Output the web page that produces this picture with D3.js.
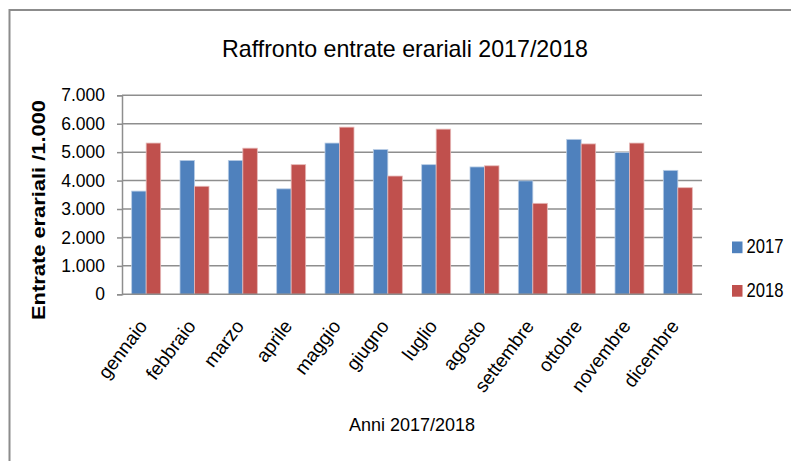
<!DOCTYPE html>
<html>
<head>
<meta charset="utf-8">
<script src="https://cdn.jsdelivr.net/npm/d3@7"></script>
<style>
  body { margin: 0; background: #fff; }
  svg { display: block; font-family: "Liberation Sans", Arial, sans-serif; }
  .grid line { stroke: #8e8e8e; stroke-width: 1.5; }
  .axis path, .axis line { stroke: #8e8e8e; stroke-width: 1.5; }
  .axis text { fill: #000; }
</style>
</head>
<body>
<svg id="chart" width="791" height="461"></svg>
<script>
// months and yearly values (thousands)
const months = ['gennaio', 'febbraio', 'marzo', 'aprile', 'maggio', 'giugno',
  'luglio', 'agosto', 'settembre', 'ottobre', 'novembre', 'dicembre']
const years = ['2017', '2018']
const values2017 = [3630, 4710, 4710, 3710, 5320, 5090, 4560, 4480, 3990, 5450, 4990, 4360]
const values2018 = [5320, 3800, 5140, 4560, 5880, 4160, 5810, 4520, 3200, 5290, 5320, 3750]
const yTicks = [0, 1000, 2000, 3000, 4000, 5000, 6000, 7000]

const colors = { '2017': '#4f81bd', '2018': '#c0504d' }
const edge = { '2017': '#b9cde5', '2018': '#e6b9b8' }

const svg = d3.select('#chart')
const plot = { left: 122, right: 702, top: 95.3, bottom: 294.3 }

// italian number format: 7.000
const it = d3.formatLocale({ decimal: ',', thousands: '.', grouping: [3], currency: ['€', ''] })
const fmt = it.format(',d')

const x0 = d3.scaleBand().domain(months).range([plot.left, plot.right]).padding(0)
const x1 = d3.scaleBand().domain(years)
  .range([x0.bandwidth() * 0.2, x0.bandwidth() * 0.8]).padding(0)
const y = d3.scaleLinear().domain([0, 7000]).range([plot.bottom, plot.top])

// outer frame (only top and left visible in the crop)
svg.append('path')
  .attr('d', 'M9.5,461 L9.5,10 L791,10')
  .attr('fill', 'none').attr('stroke', '#8c8c8c').attr('stroke-width', 2)

svg.append('text')
  .attr('x', 405).attr('y', 57)
  .attr('text-anchor', 'middle')
  .attr('font-size', 24)
  .attr('textLength', 366).attr('lengthAdjust', 'spacingAndGlyphs')
  .text('Raffronto entrate erariali 2017/2018')

// gridlines
svg.append('g').attr('class', 'grid')
  .selectAll('line')
  .data(yTicks.slice(1))
  .enter().append('line')
  .attr('x1', plot.left).attr('x2', plot.right)
  .attr('y1', d => y(d)).attr('y2', d => y(d))

// bars
const rows = months.map((m, i) => ({ month: m, vals: [['2017', values2017[i]], ['2018', values2018[i]]] }))

svg.append('g')
  .selectAll('g')
  .data(rows)
  .enter().append('g')
  .attr('transform', d => 'translate(' + x0(d.month) + ',0)')
  .selectAll('rect')
  .data(d => d.vals)
  .enter().append('rect')
  .attr('x', d => x1(d[0]))
  .attr('width', x1.bandwidth())
  .attr('y', d => y(d[1]))
  .attr('height', d => y(0) - y(d[1]))
  .attr('fill', d => colors[d[0]])
  .attr('stroke', d => edge[d[0]])
  .attr('stroke-width', 0.8)

// y axis
const yAxis = svg.append('g').attr('class', 'axis')
  .attr('transform', 'translate(' + plot.left + ',0)')
  .call(d3.axisLeft(y).tickValues(yTicks).tickFormat(fmt).tickSize(5).tickPadding(12))
yAxis.selectAll('text').attr('font-size', 17.5).attr('font-family', 'inherit')

// x axis
const xAxis = svg.append('g').attr('class', 'axis')
  .attr('transform', 'translate(0,' + plot.bottom + ')')
  .call(d3.axisBottom(x0).tickSize(0).tickPadding(0))
xAxis.select('.domain').attr('d', 'M' + plot.left + ',0H' + plot.right)
xAxis.selectAll('text')
  .attr('font-size', 19)
  .attr('font-family', 'inherit')
  .attr('text-anchor', 'end')
  .attr('dy', 0)
  .attr('transform', 'translate(2,32) rotate(-53)')

svg.append('text')
  .attr('transform', 'translate(45,210) rotate(-90)')
  .attr('text-anchor', 'middle')
  .attr('font-size', 18)
  .attr('font-weight', 'bold')
  .attr('textLength', 220).attr('lengthAdjust', 'spacingAndGlyphs')
  .text('Entrate erariali /1.000')

svg.append('text')
  .attr('x', 412).attr('y', 431)
  .attr('text-anchor', 'middle')
  .attr('font-size', 19)
  .attr('textLength', 126).attr('lengthAdjust', 'spacingAndGlyphs')
  .text('Anni 2017/2018')

// legend
const legend = svg.append('g')
  .selectAll('g')
  .data(years)
  .enter().append('g')
  .attr('transform', (d, i) => 'translate(732,' + (241.5 + i * 43.5) + ')')
legend.append('rect')
  .attr('width', 10.5).attr('height', 11.7)
  .attr('fill', d => colors[d])
legend.append('text')
  .attr('x', 14.5).attr('y', 11.8)
  .attr('font-size', 20)
  .attr('textLength', 37).attr('lengthAdjust', 'spacingAndGlyphs')
  .text(d => d)
</script>
</body>
</html>
